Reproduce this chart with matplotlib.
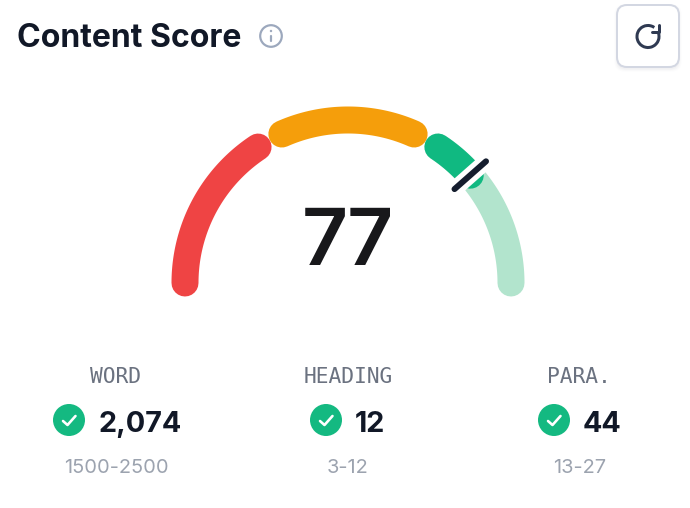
import numpy as np
import matplotlib
matplotlib.use("Agg")
import matplotlib.pyplot as plt
from matplotlib.patches import Circle, FancyBboxPatch, Arc

score = 77
segment_ranges = [(0, 31.4), (36.7, 63.3), (68.6, 77)]
segment_colors = ["#ef4444", "#f59e0b", "#10b981"]
track_range = (68.6, 100)
labels = ["WORD", "HEADING", "PARA."]
values = ["2,074", "12", "44"]
ranges = ["1500-2500", "3-12", "13-27"]

W, H = 690, 508
fig = plt.figure(figsize=(W / 100, H / 100), dpi=100, facecolor="white")
ax = fig.add_axes([0, 0, 1, 1])
ax.set_xlim(0, W)
ax.set_ylim(H, 0)
ax.axis("off")
PX = 0.72
CX, CY, R = 348, 283, 163
NAVY = "#111827"
FAM = ["Inter", "DejaVu Sans"]


def gauge_xy(a, b):
    t = np.radians(180 - np.linspace(a, b, 80) * 1.8)
    return CX + R * np.cos(t), CY - R * np.sin(t)


def stroke(xs, ys, color, lw, cap="round", z=2):
    ax.plot(xs, ys, color=color, lw=lw * PX, solid_capstyle=cap, solid_joinstyle="round", zorder=z)


# gauge
stroke(*gauge_xy(*track_range), "#b2e4cd", 27, z=2)
for (a, b), c in zip(segment_ranges, segment_colors):
    stroke(*gauge_xy(a, b), c, 27, z=3)

# needle
t = np.radians(180 - score * 1.8)
nx, ny = CX + R * np.cos(t), CY - R * np.sin(t)
ux, uy = np.cos(t), -np.sin(t)
n_in, n_out = 21, 21
xs = [nx - ux * n_in, nx + ux * n_out]
ys = [ny - uy * n_in, ny + uy * n_out]
stroke(xs, ys, "white", 16, cap="butt", z=4)
stroke(xs, ys, "#151d2e", 6, z=5)

ax.text(CX, 265, str(score), ha="center", va="baseline", fontsize=80 * PX, family=FAM,
        fontweight="semibold", color="#18181b")

# header
ax.text(17, 47, "Content Score", ha="left", va="baseline", fontsize=32 * PX, family=FAM,
        fontweight="bold", color=NAVY)
ax.add_patch(Circle((271, 36), 10.8, fc="none", ec="#9ca8bd", lw=2.2 * PX, zorder=3))
ax.plot([271, 271], [35.5, 41], color="#9ca8bd", lw=2.2 * PX, zorder=3, solid_capstyle="round")
ax.add_patch(Circle((271, 31), 1.2, fc="#9ca8bd", ec="none", zorder=3))

# refresh button
for grow, alpha in ((2.5, 0.02), (1.5, 0.03), (0.5, 0.04)):
    ax.add_patch(FancyBboxPatch((617, 7), 62, 62, boxstyle=f"round,pad={grow},rounding_size=10",
                                fc="#6b7280", ec="none", alpha=alpha, zorder=1))
ax.add_patch(FancyBboxPatch((617, 5), 62, 62, boxstyle="round,pad=0,rounding_size=10",
                            fc="white", ec="#d3d7e2", lw=2 * PX, zorder=2))
ax.add_patch(Arc((648, 36.5), 22, 22, angle=0, theta1=-20, theta2=305, ec="#2f3a52", lw=3 * PX, zorder=3))
ax.plot([659, 659, 652], [25, 32, 32], color="#2f3a52", lw=3 * PX, zorder=3,
        solid_capstyle="round", solid_joinstyle="round")

# stats
label_x = [116, 348, 579]
icon_x = [69, 326, 554]
value_x = [98, 355, 583]
range_x = [116, 348, 580]
for lab, val, rng, lx, ix, vx, rx in zip(labels, values, ranges, label_x, icon_x, value_x, range_x):
    ax.text(lx, 383, lab, ha="center", va="baseline", fontsize=21.3 * PX, family="DejaVu Sans Mono", color="#6b7280")
    ax.add_patch(Circle((ix, 420), 16, fc="#14b981", ec="none", zorder=3))
    ax.plot([ix - 6, ix - 1.5, ix + 6.5], [421, 425, 416], color="white", lw=2.6 * PX, zorder=4,
            solid_capstyle="round", solid_joinstyle="round")
    ax.text(vx, 432, val, ha="left", va="baseline", fontsize=28.8 * PX, family=FAM, fontweight="bold", color=NAVY)
    ax.text(rx, 473, rng, ha="center", va="baseline", fontsize=20 * PX, family=FAM, color="#9ca3af")

fig.savefig("out.png", dpi=100, facecolor="white")
